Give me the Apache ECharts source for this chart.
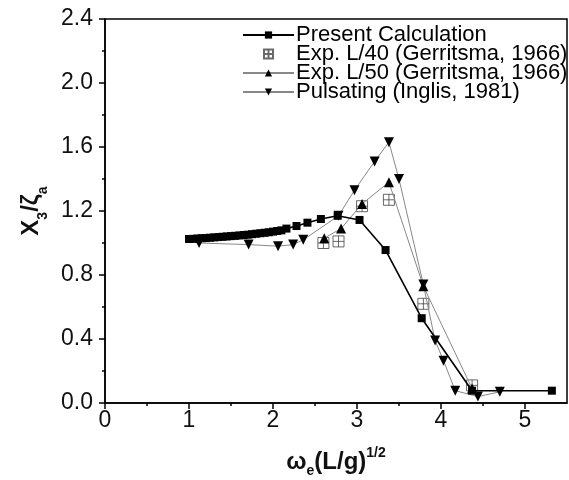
<!DOCTYPE html>
<html>
<head>
<meta charset="utf-8">
<script src="https://cdn.jsdelivr.net/npm/echarts@6/dist/echarts.min.js"></script>
<style>html,body{margin:0;padding:0;background:#fff}#c{width:569px;height:480px}</style>
</head>
<body>
<div id="c"></div>
<script>
// Present Calculation
const presentX = [1.00,1.05,1.10,1.15,1.20,1.25,1.30,1.35,1.40,1.45,1.50,1.55,1.60,1.65,1.70,1.75,1.80,1.85,1.90,1.95,2.00,2.05,2.10,2.16,2.28,2.41,2.57,2.77,3.03,3.34,3.77,4.37,5.32];
const presentY = [1.025,1.026,1.028,1.030,1.031,1.033,1.035,1.037,1.039,1.041,1.043,1.045,1.047,1.050,1.052,1.055,1.058,1.061,1.064,1.067,1.071,1.075,1.079,1.09,1.106,1.127,1.15,1.17,1.144,0.956,0.53,0.077,0.077];
// Exp. L/40 (Gerritsma, 1966)
const l40X = [2.60,2.78,3.06,3.38,3.79,4.37];
const l40Y = [1.00,1.01,1.23,1.27,0.62,0.11];
// Exp. L/50 (Gerritsma, 1966)
const l50X = [2.61,2.81,3.06,3.38,3.79,4.37];
const l50Y = [1.03,1.09,1.244,1.38,0.73,0.09];
// Pulsating (Inglis, 1981)
const pulsX = [1.12,1.71,2.06,2.24,2.36,2.78,2.97,3.21,3.38,3.50,3.79,3.93,4.03,4.17,4.44,4.70];
const pulsY = [1.00,0.99,0.98,0.99,1.02,1.17,1.33,1.51,1.63,1.40,0.74,0.39,0.264,0.077,0.04,0.07];
// axis ticks
const xMajor = [0,1,2,3,4,5];
const xMinor = [0.5,1.5,2.5,3.5,4.5];

const zip = (a,b) => a.map((v,i)=>[v,b[i]]);
const FONT = 'Liberation Sans';
const boxCross = 'path://M0,0L10,0L10,10L0,10Z M5,0L5,10 M0,5L10,5';

const chart = echarts.init(document.getElementById('c'), null, {renderer:'canvas'});
chart.setOption({
  animation:false,
  backgroundColor:'#fff',
  textStyle:{fontFamily:FONT},
  grid:{left:105, right:2, top:19, bottom:77, containLabel:false, outerBoundsMode:'none',
        show:true, borderColor:'#000', borderWidth:1.5, backgroundColor:'transparent'},
  legend:{
    left:237, top:19, orient:'vertical', itemWidth:51, itemHeight:9, itemGap:-3,
    textStyle:{fontFamily:FONT, fontSize:22, color:'#000', padding:[0,0,0,-3]},
    data:['Present Calculation','Exp. L/40 (Gerritsma, 1966)','Exp. L/50 (Gerritsma, 1966)','Pulsating (Inglis, 1981)']
  },
  xAxis:[{
    type:'value', min:0, max:5.5, interval:1,
    axisLine:{lineStyle:{color:'#000', width:1.5}},
    axisTick:{customValues:xMajor, length:6, inside:false, lineStyle:{color:'#000', width:1.5}},
    axisLabel:{customValues:xMajor, fontSize:23, color:'#111', margin:6, fontFamily:FONT},
    splitLine:{show:false},
    name:'{b|ω}{s|e}{b|(L/g)}{p|1/2}', nameLocation:'middle', nameGap:45,
    nameTextStyle:{rich:{
      b:{fontSize:24, fontWeight:'bold', fontFamily:FONT, color:'#111', lineHeight:28},
      s:{fontSize:14, fontWeight:'bold', fontFamily:FONT, color:'#111', verticalAlign:'bottom', lineHeight:14, padding:[0,0,-2,0]},
      p:{fontSize:14, fontWeight:'bold', fontFamily:FONT, color:'#111', verticalAlign:'top', lineHeight:14, padding:[-2,0,0,0]}
    }}
  },{
    type:'value', min:0, max:5.5, position:'bottom',
    axisLine:{show:false},
    axisTick:{customValues:xMinor, length:3, lineStyle:{color:'#000', width:1.5}},
    axisLabel:{show:false},
    splitLine:{show:false}
  }],
  yAxis:{
    type:'value', min:0, max:2.4, interval:0.4,
    axisLine:{lineStyle:{color:'#000', width:1.5}},
    axisTick:{length:6, lineStyle:{color:'#000', width:1.5}},
    minorTick:{show:true, splitNumber:2, length:3, lineStyle:{color:'#000', width:1.5}},
    axisLabel:{fontSize:23, color:'#111', margin:12, fontFamily:FONT, formatter:v=>v.toFixed(1)},
    splitLine:{show:false},
    name:'{b|X}{s|3}{b|/ζ}{s|a}', nameLocation:'middle', nameGap:56, nameRotate:90,
    nameTextStyle:{rich:{
      b:{fontSize:24, fontWeight:'bold', fontFamily:FONT, color:'#111', lineHeight:30},
      s:{fontSize:14, fontWeight:'bold', fontFamily:FONT, color:'#111', verticalAlign:'bottom', lineHeight:14, padding:[0,0,-4,0]}
    }}
  },
  series:[
    {name:'Present Calculation', type:'line', xAxisIndex:0, data:zip(presentX,presentY),
     symbol:'rect', symbolSize:8, showAllSymbol:true,
     lineStyle:{color:'#000', width:1.6}, itemStyle:{color:'#000'}, z:5},
    {name:'Exp. L/40 (Gerritsma, 1966)', type:'scatter', xAxisIndex:0, data:zip(l40X,l40Y),
     symbol:boxCross, symbolSize:11, symbolKeepAspect:true,
     itemStyle:{color:'rgba(255,255,255,0)', borderColor:'#444', borderWidth:1}, z:3},
    {name:'Exp. L/50 (Gerritsma, 1966)', type:'line', xAxisIndex:0, data:zip(l50X,l50Y),
     symbol:'triangle', symbolSize:10, showAllSymbol:true,
     lineStyle:{color:'#888', width:1}, itemStyle:{color:'#000'}, z:4},
    {name:'Pulsating (Inglis, 1981)', type:'line', xAxisIndex:0, data:zip(pulsX,pulsY),
     symbol:'triangle', symbolRotate:180, symbolSize:10, showAllSymbol:true,
     lineStyle:{color:'#888', width:1}, itemStyle:{color:'#000'}, z:4}
  ]
});
</script>
</body>
</html>
